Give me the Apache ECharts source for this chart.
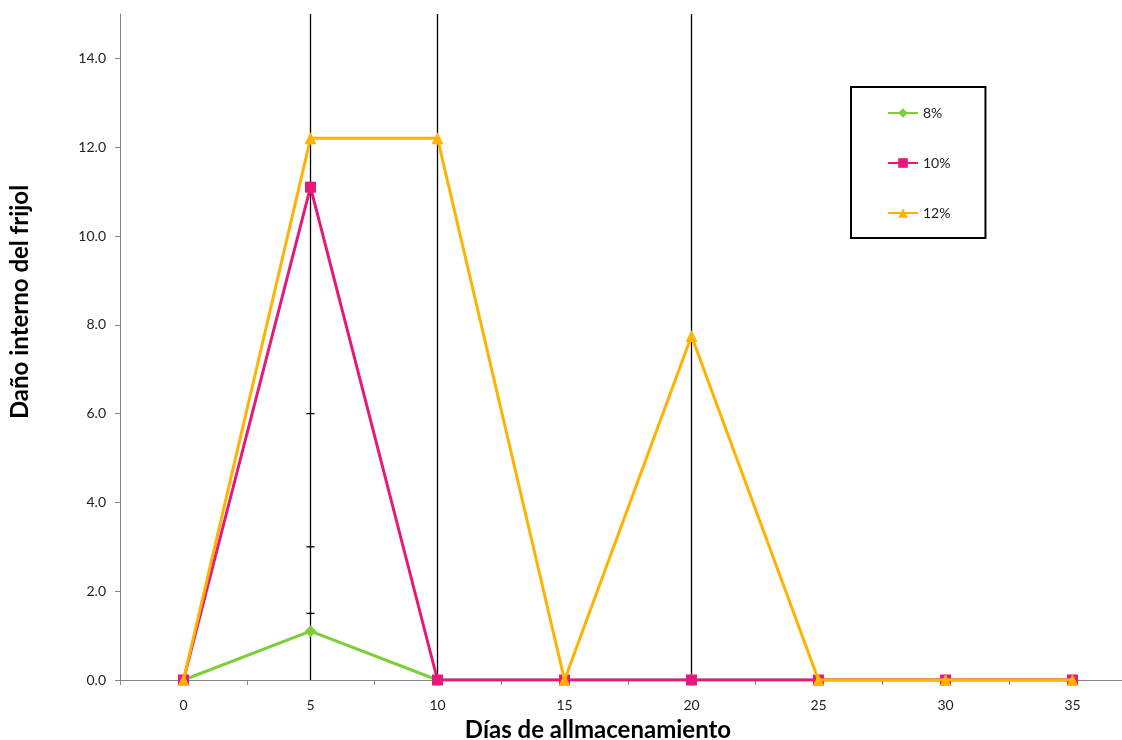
<!DOCTYPE html>
<html>
<head>
<meta charset="utf-8">
<script src="https://cdn.jsdelivr.net/npm/echarts@6/dist/echarts.min.js"></script>
<style>
  html, body { margin: 0; padding: 0; background: #fff; }
  #chart { width: 1122px; height: 740px; }
</style>
</head>
<body>
<div id="chart"></div>
<script>
// Storage days (categories)
const days = ['0', '5', '10', '15', '20', '25', '30', '35'];

// Internal damage per moisture content
const s8 = [0, 1.1, 0, 0, 0, 0, 0, 0];
const s10 = [0, 11.1, 0, 0, 0, 0, 0, 0];
const s12 = [0, 12.2, 12.2, 0, 7.75, 0, 0, 0];

const seriesNames = ['8%', '10%', '12%'];

// Error bars: day, lower end, upper end, cap positions
const errDays = ['5', '10', '20'];
const errLow = [0, 0, 0];
const errHigh = [15, 15, 15];
const errCaps = [[1.5, 3.0, 6.0], [], []];

const chart = echarts.init(document.getElementById('chart'));

const errData = errDays.map((d, i) => [d, errLow[i], errHigh[i], errCaps[i]]);

const font = 'Lato, "Open Sans", sans-serif';

chart.setOption({
  animation: false,
  backgroundColor: '#fff',
  grid: { left: 120, top: 14, right: -14, bottom: 60, containLabel: false, outerBoundsMode: 'none' },
  legend: {
    data: seriesNames,
    orient: 'vertical',
    left: 851,
    top: 87,
    padding: [19, 35, 18, 36],
    itemGap: 36,
    itemWidth: 30,
    itemHeight: 12,
    borderColor: '#000',
    borderWidth: 2,
    textStyle: { fontSize: 14, color: '#222', fontFamily: font }
  },
  xAxis: {
    type: 'category',
    data: days,
    boundaryGap: true,
    name: 'Días de allmacenamiento',
    nameLocation: 'middle',
    nameGap: 38,
    nameTextStyle: {
      fontSize: 24, fontWeight: 'bold', color: '#000', fontFamily: font,
      padding: [0, 60, 0, 0]
    },
    axisLine: { lineStyle: { color: '#868686', width: 1 } },
    axisTick: { show: true, length: 5, lineStyle: { color: '#868686' } },
    axisLabel: { fontSize: 14, color: '#222', margin: 18, fontFamily: font },
    splitLine: { show: false }
  },
  yAxis: {
    type: 'value',
    min: 0,
    max: 15,
    interval: 2,
    name: 'Daño interno del frijol',
    nameLocation: 'middle',
    nameGap: 88,
    nameTextStyle: {
      fontSize: 24, fontWeight: 'bold', color: '#000', fontFamily: font,
      padding: [0, 0, 0, 90]
    },
    axisLine: { show: true, lineStyle: { color: '#868686', width: 1 } },
    axisTick: { show: true, length: 5, lineStyle: { color: '#868686' } },
    axisLabel: {
      fontSize: 14, color: '#222', margin: 14, fontFamily: font,
      showMaxLabel: false,
      formatter: v => (v > 14 ? '' : v.toFixed(1))
    },
    splitLine: { show: false }
  },
  series: [
    {
      type: 'custom',
      name: 'err',
      z: 1,
      silent: true,
      clip: true,
      data: errData,
      renderItem: function (params, api) {
        const x = api.value(0);
        const lo = api.coord([x, api.value(1)]);
        const hi = api.coord([x, api.value(2)]);
        const caps = errData[params.dataIndex][3];
        const children = [{
          type: 'line',
          shape: { x1: lo[0], y1: lo[1], x2: hi[0], y2: hi[1] },
          style: { stroke: '#000', lineWidth: 1.3 }
        }];
        caps.forEach(c => {
          const p = api.coord([x, c]);
          children.push({
            type: 'line',
            shape: { x1: p[0] - 4, y1: p[1], x2: p[0] + 4, y2: p[1] },
            style: { stroke: '#000', lineWidth: 1.3 }
          });
        });
        return { type: 'group', children: children };
      }
    },
    {
      name: seriesNames[0],
      type: 'line',
      z: 3,
      data: s8,
      symbol: 'diamond',
      symbolSize: 12,
      color: '#7DCE3A',
      lineStyle: { width: 3, color: '#7DCE3A' },
      itemStyle: { color: '#7DCE3A' }
    },
    {
      name: seriesNames[1],
      type: 'line',
      z: 4,
      data: s10,
      symbol: 'rect',
      symbolSize: 11,
      color: '#E8177C',
      lineStyle: { width: 3, color: '#E8177C' },
      itemStyle: { color: '#E8177C' }
    },
    {
      name: seriesNames[2],
      type: 'line',
      z: 5,
      data: s12,
      symbol: 'triangle',
      symbolSize: 12,
      color: '#FFB300',
      lineStyle: { width: 3, color: '#FFB300' },
      itemStyle: { color: '#FFB300' }
    }
  ]
});
</script>
</body>
</html>
